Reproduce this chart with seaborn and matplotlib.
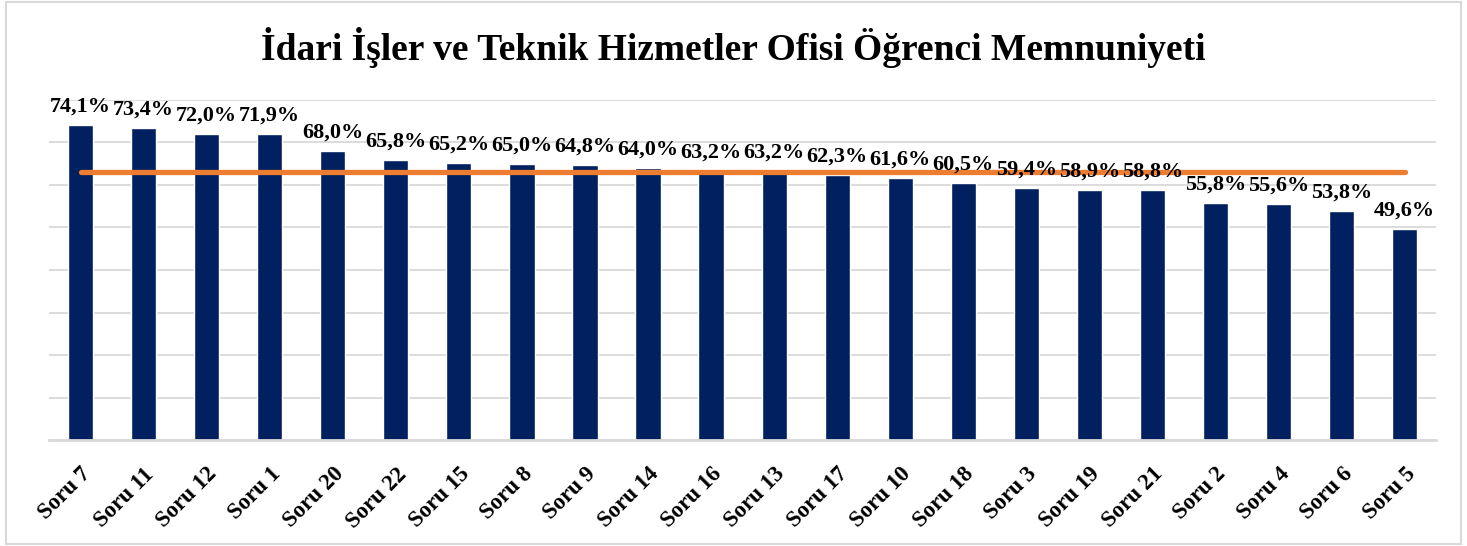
import matplotlib
matplotlib.use('Agg')
import pandas as pd
import seaborn as sns
import matplotlib.pyplot as plt
from matplotlib.patches import Rectangle

TITLE = 'İdari İşler ve Teknik Hizmetler Ofisi Öğrenci Memnuniyeti'

questions = ['Soru 7', 'Soru 11', 'Soru 12', 'Soru 1', 'Soru 20', 'Soru 22',
             'Soru 15', 'Soru 8', 'Soru 9', 'Soru 14', 'Soru 16', 'Soru 13',
             'Soru 17', 'Soru 10', 'Soru 18', 'Soru 3', 'Soru 19', 'Soru 21',
             'Soru 2', 'Soru 4', 'Soru 6', 'Soru 5']
scores = [74.1, 73.4, 72.0, 71.9, 68.0, 65.8, 65.2, 65.0, 64.8, 64.0, 63.2,
          63.2, 62.3, 61.6, 60.5, 59.4, 58.9, 58.8, 55.8, 55.6, 53.8, 49.6]
average = [63.0] * len(questions)
y_ticks = [0, 10, 20, 30, 40, 50, 60, 70, 80]

BAR_COLOR = '#002060'
LINE_COLOR = '#ed7d31'
GRID_COLOR = '#d9d9d9'


def main():
    sns.set_theme(style='white')
    plt.rcParams['font.family'] = ['Liberation Serif', 'DejaVu Serif']
    plt.rcParams['font.weight'] = 'bold'
    plt.rcParams['text.color'] = 'black'
    plt.rcParams['xtick.color'] = 'black'

    df = pd.DataFrame({'soru': questions, 'puan': scores, 'ort': average})

    fig = plt.figure(figsize=(14.67, 5.46), dpi=100)
    ax = fig.add_axes([0.0334, 0.194, 0.9456, 0.623])

    sns.barplot(data=df, x='soru', y='puan', color=BAR_COLOR, width=0.4,
                saturation=1, ax=ax, zorder=2)
    sns.lineplot(data=df, x='soru', y='ort', color=LINE_COLOR, linewidth=3.8,
                 ax=ax, zorder=3, solid_capstyle='round', sort=False)

    for i, v in enumerate(scores):
        ax.annotate(f'{v:.1f}%'.replace('.', ','), (i, v),
                    xytext=(0, 6), textcoords='offset points',
                    ha='center', va='bottom', fontsize=16,
                    fontweight='bold', color='black', zorder=4)

    ax.set_ylim(0, 80)
    ax.set_xlim(-0.5, len(questions) - 0.5)
    ax.set_yticks(y_ticks)
    ax.set_yticklabels([])
    ax.yaxis.grid(True, color=GRID_COLOR, linewidth=1.3, zorder=0)
    ax.set_axisbelow(True)
    for side in ['top', 'right', 'left']:
        ax.spines[side].set_visible(False)
    ax.spines['bottom'].set_color(GRID_COLOR)
    ax.spines['bottom'].set_linewidth(2)
    ax.tick_params(axis='y', length=0)
    ax.tick_params(axis='x', length=0, pad=17, labelcolor='black')
    plt.setp(ax.get_xticklabels(), rotation=45, ha='right',
             rotation_mode='anchor', fontsize=16.5, fontweight='bold')
    ax.set_xlabel('')
    ax.set_ylabel('')

    fig.text(0.5, 0.913, TITLE, ha='center', va='center', fontsize=27,
             fontweight='bold', color='black')
    fig.patches.append(Rectangle((0.004, 0.004), 0.992, 0.992,
                                 transform=fig.transFigure, fill=False,
                                 edgecolor='#d9d9d9', linewidth=1.5))

    fig.savefig('out.png', dpi=100)


if __name__ == '__main__':
    main()
